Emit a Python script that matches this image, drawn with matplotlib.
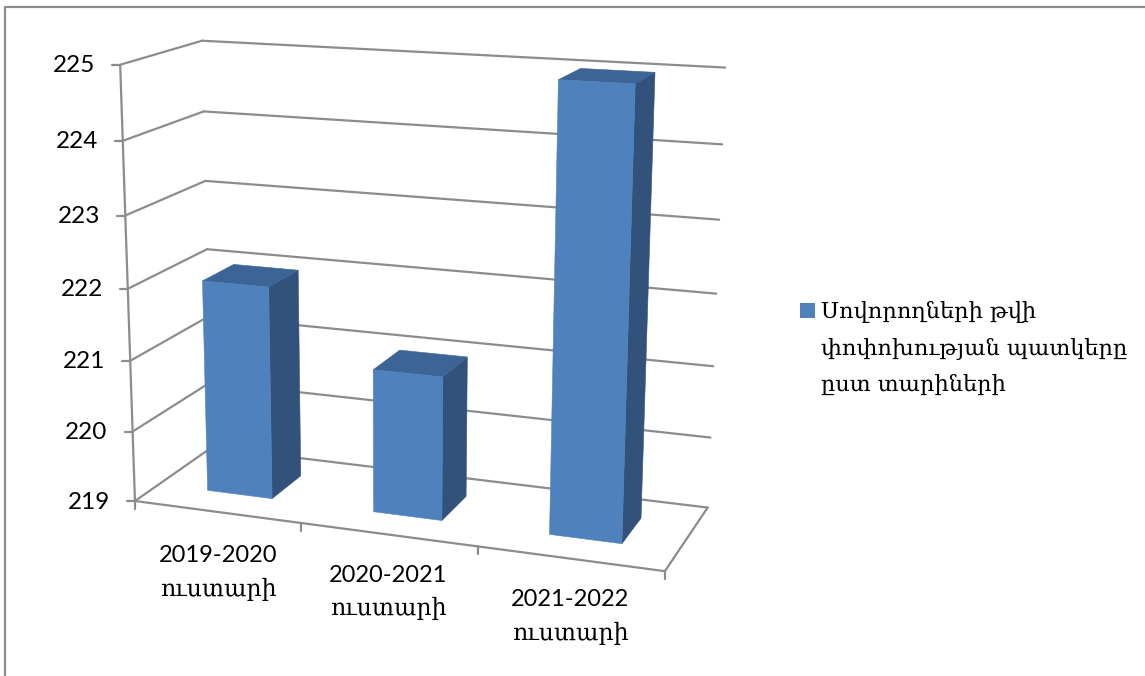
import numpy as np
import matplotlib
matplotlib.use("Agg")
import matplotlib.pyplot as plt
from matplotlib.patches import Polygon, Rectangle

categories = ["2019-2020\nուստարի", "2020-2021\nուստարի", "2021-2022\nուստարի"]
values = [222, 221, 225]
value_ticks = [219, 220, 221, 222, 223, 224, 225]
legend_label = "Սովորողների թվի\nփոփոխության պատկերը\nըստ տարիների"

W, H = 1145, 676
FONT = ["Lato", "DejaVu Serif"]
ARM = ["DejaVu Serif"]
GRID = "#8c8c8c"
FRONT, SIDE, TOP = "#4f81bd", "#32527c", "#3d6496"

# Perspective camera: (category, value, depth) -> pixel, calibrated on the chart box corners
calib = [((0, 219, 0), (136, 500)), ((0, 225, 0), (119, 65)),
         ((0, 219, 1), (211, 449)), ((0, 225, 1), (203, 41)),
         ((3, 219, 0), (665, 572)), ((3, 219, 1), (707, 507)),
         ((3, 225, 1), (725, 68)), ((0, 222, 1), (207, 248)),
         ((3, 222, 1), (717, 293))]
rows, rhs = [], []
for (x, y, z), (u, v) in calib:
    y0 = y - 219
    rows.append([x, y0, z, 1, 0, 0, 0, 0, -u*x, -u*y0, -u*z])
    rows.append([0, 0, 0, 0, x, y0, z, 1, -v*x, -v*y0, -v*z])
    rhs += [u, v]
P = np.append(np.linalg.lstsq(np.array(rows, float), np.array(rhs, float), rcond=None)[0], 1).reshape(3, 4)
def proj(x, y, z):
    h = P @ np.array([x, y - 219, z, 1.0])
    return h[0] / h[2], h[1] / h[2]

fig = plt.figure(figsize=(W / 100, H / 100), dpi=100)
ax = fig.add_axes([0, 0, 1, 1])
ax.set_xlim(0, W)
ax.set_ylim(H, 0)
ax.axis("off")

def line(p, q, lw=1.6, z=1):
    ax.plot([p[0], q[0]], [p[1], q[1]], color=GRID, lw=lw, zorder=z, solid_capstyle="round")

# chart frame
ax.plot([5, 5, W], [H, 7, 7], color=GRID, lw=1.6, zorder=1)

# walls, gridlines and ticks
for v in value_ticks:
    line(proj(0, v, 0), proj(0, v, 1))
    line(proj(0, v, 1), proj(3, v, 1))
    f = proj(0, v, 0)
    line((f[0] - 8, f[1]), f)
    ax.text(f[0] - 25, f[1] + 1, str(v), ha="right", va="center", fontsize=17.5,
            family=FONT, color="black")
line(proj(0, 219, 0), proj(0, 225, 0))
line(proj(0, 219, 0), proj(3, 219, 0))
line(proj(3, 219, 0), proj(3, 219, 1))
for i in range(len(categories) + 1):
    f = proj(i, 219, 0)
    line(f, (f[0], f[1] + 8))

# bars
BW, Z0, Z1 = 0.395, 0.30, 0.71
def poly(pts, color, zo):
    ax.add_patch(Polygon([proj(*p) for p in pts], closed=True, facecolor=color,
                         edgecolor=color, lw=0.4, zorder=zo))
for i, val in enumerate(values):
    x0, x1 = i + 0.5 - BW / 2, i + 0.5 + BW / 2
    zo = 3 + i
    poly([(x1, 219, Z0), (x1, 219, Z1), (x1, val, Z1), (x1, val, Z0)], SIDE, zo)
    poly([(x0, val, Z0), (x1, val, Z0), (x1, val, Z1), (x0, val, Z1)], TOP, zo)
    poly([(x0, 219, Z0), (x1, 219, Z0), (x1, val, Z0), (x0, val, Z0)], FRONT, zo)

# category labels
label_pos = [(218, 575), (388, 594), (570, 619)]
for (lx, ly), lab in zip(label_pos, categories):
    top, bottom = lab.split("\n")
    ax.text(lx, ly - 19, top, ha="center", va="center", fontsize=17, family=FONT, color="black")
    ax.text(lx, ly + 14, bottom, ha="center", va="center", fontsize=17, family=ARM, color="black")

# legend
ax.add_patch(Rectangle((800, 303), 15, 15, facecolor=FRONT, edgecolor="none"))
for j, t in enumerate(legend_label.split("\n")):
    ax.text(821, 312 + j * 36.5, t, ha="left", va="center", fontsize=16.2, family=ARM, color="black")

fig.savefig("out.png", dpi=100)
